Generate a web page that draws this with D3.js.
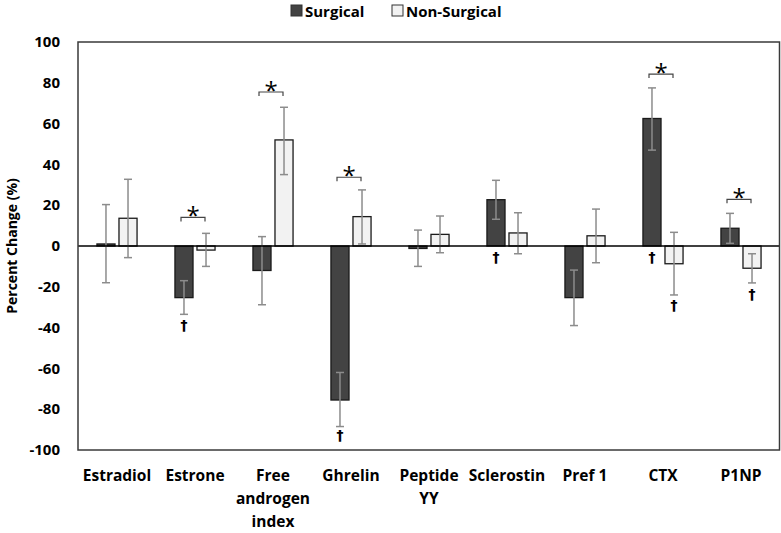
<!DOCTYPE html>
<html>
<head>
<meta charset="utf-8">
<script src="https://cdn.jsdelivr.net/npm/d3@7"></script>
<style>
  body { margin: 0; background: #fff; }
  text { font-family: "Open Sans", sans-serif; fill: #000; }
</style>
</head>
<body>
<div id="chart"></div>
<script>
// categories (multi-line labels)
var categories = ["Estradiol", "Estrone", "Free androgen index", "Ghrelin", "Peptide YY", "Sclerostin", "Pref 1", "CTX", "P1NP"];
var catLines = [["Estradiol"], ["Estrone"], ["Free", "androgen", "index"], ["Ghrelin"], ["Peptide", "YY"], ["Sclerostin"], ["Pref 1"], ["CTX"], ["P1NP"]];
var series = ["Surgical", "Non-Surgical"];

// percent change means
var surgical    = [1, -25.3, -12, -75.5, -1.2, 22.7, -25.3, 62.5, 8.7];
var nonSurgical = [13.6, -2, 52, 14.4, 5.7, 6.4, 5, -8.7, -10.9];

// error bar ends (low, high)
var surgicalErr    = [[-18, 20.3], [-33.5, -17], [-28.8, 4.6], [-88.5, -62], [-10, 7.8], [13.1, 32.2], [-39, -11.8], [47, 77.5], [1.3, 16]];
var nonSurgicalErr = [[-5.7, 32.7], [-10, 6.2], [35, 68], [1, 27.5], [-3.3, 14.7], [-3.8, 16.3], [-8.2, 18.1], [-24, 6.7], [-18.1, -3.8]];

// significance between groups (*) and bracket level
var starCats   = ["Estrone", "Free androgen index", "Ghrelin", "CTX", "P1NP"];
var starLevels = [14, 75.5, 33.7, 84.3, 22.9];

// within-group significance (dagger) positions
var daggerCats   = ["Estrone", "Ghrelin", "Sclerostin", "CTX", "CTX", "P1NP"];
var daggerSeries = ["Surgical", "Surgical", "Surgical", "Surgical", "Non-Surgical", "Non-Surgical"];
var daggerLevels = [-38.7, -92.6, -5.4, -5.4, -29, -23.5];

var yTicks = [-100, -80, -60, -40, -20, 0, 20, 40, 60, 80, 100];

var width = 781, height = 533;
var margin = {left: 78, right: 1, top: 42, bottom: 83};

var svg = d3.select("#chart").append("svg")
    .attr("width", width)
    .attr("height", height);

var x0 = d3.scaleBand().domain(categories).range([margin.left, width - margin.right]).padding(0);
var x1 = d3.scaleBand().domain(series).range([0, x0.bandwidth()]).paddingInner(0.18).paddingOuter(0.86);
var y = d3.scaleLinear().domain([-100, 100]).range([height - margin.bottom, margin.top]);

var colors = {"Surgical": "#434343", "Non-Surgical": "#f2f2f2"};

// y axis labels
svg.append("g").selectAll("text")
    .data(yTicks)
  .enter().append("text")
    .attr("x", 60)
    .attr("y", function(d) { return y(d); })
    .attr("dy", "0.35em")
    .attr("text-anchor", "end")
    .style("font-size", "15px")
    .style("font-weight", "bold")
    .text(function(d) { return d; });

svg.append("text")
    .attr("transform", "translate(12," + y(0) + ") rotate(-90)")
    .attr("text-anchor", "middle")
    .attr("dy", "0.35em")
    .style("font-size", "14px")
    .style("font-weight", "bold")
    .text("Percent Change (%)");

// build rows
var rows = [];
categories.forEach(function(c, i) {
  rows.push({cat: c, s: "Surgical", v: surgical[i], lo: surgicalErr[i][0], hi: surgicalErr[i][1]});
  rows.push({cat: c, s: "Non-Surgical", v: nonSurgical[i], lo: nonSurgicalErr[i][0], hi: nonSurgicalErr[i][1]});
});

function cx(d) { return x0(d.cat) + x1(d.s) + x1.bandwidth() / 2; }

// bars
svg.append("g").selectAll("rect")
    .data(rows)
  .enter().append("rect")
    .attr("x", function(d) { return x0(d.cat) + x1(d.s); })
    .attr("y", function(d) { return y(Math.max(0, d.v)); })
    .attr("width", x1.bandwidth())
    .attr("height", function(d) { return Math.abs(y(d.v) - y(0)); })
    .style("fill", function(d) { return colors[d.s]; })
    .style("stroke", "#1a1a1a")
    .style("stroke-width", 1.3);

// error bars
var eb = svg.append("g").selectAll("g")
    .data(rows)
  .enter().append("g")
    .style("stroke", "#8c8c8c")
    .style("stroke-width", 1.5);
eb.append("line")
    .attr("x1", cx).attr("x2", cx)
    .attr("y1", function(d) { return y(d.lo); })
    .attr("y2", function(d) { return y(d.hi); });
eb.append("line")
    .attr("x1", function(d) { return cx(d) - 4; }).attr("x2", function(d) { return cx(d) + 4; })
    .attr("y1", function(d) { return y(d.lo); }).attr("y2", function(d) { return y(d.lo); });
eb.append("line")
    .attr("x1", function(d) { return cx(d) - 4; }).attr("x2", function(d) { return cx(d) + 4; })
    .attr("y1", function(d) { return y(d.hi); }).attr("y2", function(d) { return y(d.hi); });

// zero line
svg.append("line")
    .attr("x1", margin.left).attr("x2", width - margin.right)
    .attr("y1", y(0)).attr("y2", y(0))
    .style("stroke", "#000")
    .style("stroke-width", 1.3);

// plot border
svg.append("rect")
    .attr("x", margin.left)
    .attr("y", y(100))
    .attr("width", width - margin.right - margin.left - 0.5)
    .attr("height", y(-100) - y(100))
    .style("fill", "none")
    .style("stroke", "#3a3a3a")
    .style("stroke-width", 1.5);

// brackets with stars
var br = svg.append("g").selectAll("g")
    .data(starCats)
  .enter().append("g");
br.append("path")
    .attr("d", function(c, i) {
      var m = x0(c) + x0.bandwidth() / 2 - 2;
      var yy = y(starLevels[i]);
      return "M" + (m - 12) + "," + (yy + 4) + "V" + yy + "H" + (m + 12) + "V" + (yy + 4);
    })
    .style("fill", "none")
    .style("stroke", "#444")
    .style("stroke-width", 1.2);
br.append("text")
    .attr("x", function(c) { return x0(c) + x0.bandwidth() / 2 - 2; })
    .attr("y", function(c, i) { return y(starLevels[i]) + 7; })
    .attr("text-anchor", "middle")
    .style("font-size", "24px")
    .text("*");

// daggers
svg.append("g").selectAll("text")
    .data(daggerCats)
  .enter().append("text")
    .attr("x", function(c, i) { return x0(c) + x1(daggerSeries[i]) + x1.bandwidth() / 2; })
    .attr("y", function(c, i) { return y(daggerLevels[i]); })
    .attr("dy", "0.35em")
    .attr("text-anchor", "middle")
    .style("font-family", "'DejaVu Sans', sans-serif")
    .style("font-weight", "bold")
    .style("fill", "#000")
    .style("font-size", "14px")
    .text("\u2020");

// x labels
var xl = svg.append("g").selectAll("text")
    .data(categories)
  .enter().append("text")
    .attr("x", function(c) { return x0(c) + x0.bandwidth() / 2; })
    .attr("y", 481)
    .attr("text-anchor", "middle")
    .style("font-size", "15.5px")
    .style("font-weight", "bold");
xl.selectAll("tspan")
    .data(function(c, i) { return catLines[i]; })
  .enter().append("tspan")
    .attr("x", function() { return this.parentNode.getAttribute("x"); })
    .attr("dy", function(d, j) { return j === 0 ? 0 : 23; })
    .text(function(d) { return d; });

// legend
var legX = [291, 392];
var lg = svg.append("g").selectAll("g")
    .data(series)
  .enter().append("g")
    .attr("transform", function(d, i) { return "translate(" + legX[i] + ",5)"; });
lg.append("rect")
    .attr("width", 11).attr("height", 11)
    .style("fill", function(d) { return colors[d]; })
    .style("stroke", "#333")
    .style("stroke-width", 1);
lg.append("text")
    .attr("x", 14)
    .attr("y", 11.5)
    .style("font-size", "15px")
    .style("font-weight", "bold")
    .text(function(d) { return d; });
</script>
</body>
</html>
